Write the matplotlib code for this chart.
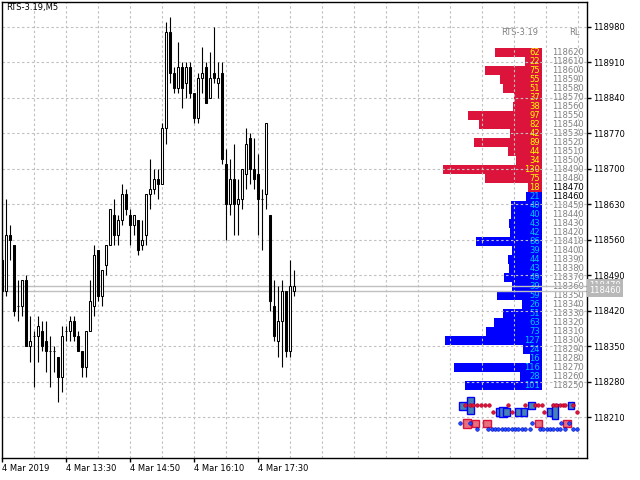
import matplotlib
matplotlib.use('Agg')
import matplotlib.pyplot as plt
import matplotlib.transforms as mtransforms
from matplotlib.patches import Rectangle

plt.rcParams['font.family'] = 'DejaVu Sans'
plt.rcParams['font.size'] = 5.6

# RTS-3.19 M5 bars
opens = [118520, 118460, 118570, 118550, 118430, 118430, 118480, 118350, 118370, 118370,
         118380, 118360, 118340, 118340, 118330, 118290, 118380, 118380, 118400, 118370,
         118340, 118310, 118380, 118430, 118540, 118450, 118510, 118550, 118610, 118570,
         118600, 118650, 118610, 118590, 118600, 118550, 118570, 118650, 118660, 118680,
         118670, 118780, 118970, 118890, 118860, 118900, 118870, 118900, 118850, 118800,
         118880, 118900, 118840, 118890, 118870, 118890, 118710, 118630, 118680, 118630,
         118640, 118690, 118760, 118700, 118690, 118640, 118650, 118610, 118430, 118360,
         118400, 118460, 118340, 118460]
highs = [118530, 118640, 118590, 118550, 118480, 118480, 118490, 118410, 118380, 118410,
         118400, 118400, 118370, 118350, 118330, 118390, 118390, 118410, 118410, 118380,
         118340, 118380, 118480, 118550, 118540, 118500, 118550, 118620, 118640, 118610,
         118670, 118660, 118620, 118610, 118600, 118600, 118650, 118720, 118700, 118700,
         118790, 118990, 119000, 118900, 118950, 118910, 118910, 118910, 118850, 118890,
         118940, 118910, 118930, 118980, 118910, 118910, 118740, 118720, 118750, 118680,
         118700, 118780, 118770, 118760, 118730, 118660, 118790, 118610, 118480, 118470,
         118480, 118460, 118520, 118500]
lows = [118450, 118450, 118520, 118410, 118400, 118410, 118350, 118320, 118270, 118320,
        118340, 118300, 118270, 118300, 118240, 118260, 118360, 118360, 118360, 118340,
        118290, 118290, 118380, 118410, 118440, 118430, 118490, 118550, 118550, 118550,
        118590, 118610, 118550, 118570, 118530, 118540, 118550, 118620, 118650, 118640,
        118670, 118750, 118870, 118850, 118850, 118820, 118840, 118840, 118790, 118790,
        118850, 118830, 118840, 118870, 118840, 118710, 118560, 118610, 118570, 118570,
        118620, 118660, 118670, 118660, 118570, 118540, 118620, 118420, 118360, 118330,
        118310, 118330, 118330, 118450]
closes = [118460, 118570, 118560, 118420, 118430, 118480, 118350, 118360, 118370, 118390,
          118350, 118340, 118340, 118340, 118290, 118370, 118380, 118400, 118370, 118340,
          118310, 118380, 118440, 118530, 118450, 118500, 118550, 118620, 118570, 118600,
          118650, 118620, 118590, 118610, 118540, 118560, 118650, 118660, 118680, 118670,
          118780, 118970, 118890, 118860, 118900, 118860, 118900, 118850, 118800, 118880,
          118890, 118830, 118880, 118880, 118880, 118720, 118630, 118680, 118630, 118640,
          118700, 118750, 118700, 118680, 118640, 118640, 118790, 118440, 118370, 118400,
          118460, 118340, 118470, 118470]

time_ticks = [0, 16, 32, 48, 64]
time_labels = ['4 Mar 2019', '4 Mar 13:30', '4 Mar 14:50', '4 Mar 16:10', '4 Mar 17:30']
price_ticks = [118210, 118280, 118350, 118420, 118490, 118560, 118630, 118700,
               118770, 118840, 118910, 118980]
bid = 118460
ask = 118470

# volume profile (right side)
profile_levels = [118620, 118610, 118600, 118590, 118580, 118570, 118560, 118550, 118540,
                  118530, 118520, 118510, 118500, 118490, 118480, 118470, 118460, 118450,
                  118440, 118430, 118420, 118410, 118400, 118390, 118380, 118370, 118360,
                  118350, 118340, 118330, 118320, 118310, 118300, 118290, 118280, 118270,
                  118260, 118250]
profile_counts = [62, 22, 75, 55, 51, 37, 38, 97, 82, 42, 89, 44, 34, 130, 75, 18,
                  21, 40, 40, 43, 42, 86, 39, 44, 43, 49, 39, 59, 26, 51, 63, 73, 127,
                  24, 16, 116, 28, 101]

# small order-flow glyphs under the profile
blue_boxes = [(8, 11, 8, 8), (15.5, 10.5, 7, 17), (43, 17, 4, 8), (48, 17, 8, 10),
              (51.5, 17, 7, 8), (62.8, 17, 6, 8), (68.5, 17, 6, 8), (76.5, 10.5, 7, 7),
              (94.5, 17, 5, 8), (100, 16.5, 6, 15), (116, 10.5, 6, 7)]
red_boxes = [(12, 28.5, 8, 9), (20.5, 28.5, 7, 7), (32, 28.5, 8, 7), (83.5, 28.5, 7, 7),
             (112, 28.5, 8, 7)]
red_dots_x = [10, 15, 18, 22, 26, 30, 34, 53, 70, 80, 83, 87, 98, 101, 105, 108, 110, 118,
              38, 57, 89, 122]
red_dots_y = [10, 10, 10, 10, 10, 10, 10, 10, 10, 10, 10, 10, 10, 10, 10, 10, 10, 10,
              17, 17, 17, 17]
blue_dots_x = [5, 15, 77, 106, 114, 22, 33, 37, 40, 43, 47, 50, 53, 57, 60, 63, 67, 70,
               75, 85, 88, 92, 95, 98, 102, 105, 110, 118, 122]
blue_dots_y = [28, 28, 28, 28, 28] + [34] * 24

fig = plt.figure(figsize=(6.4, 4.8), dpi=100, facecolor='white')

# profile axes sits underneath the chart so the grid runs over it
pax = fig.add_axes([430 / 640, 1 - 389.5 / 480, 111.7 / 640, 341.3 / 480], zorder=1)
pax.set_xlim(147, 0)
pax.set_ylim(118245, 118625)
pax.axis('off')
for lvl, cnt in zip(profile_levels, profile_counts):
    above = lvl > bid
    pax.barh(lvl, cnt, height=10, color='#DC143C' if above else '#0000FF', linewidth=0)
    pax.text(2.5, lvl, str(cnt), ha='right', va='center',
             color='#FFFF00' if above else '#00C8FF', fontsize=6)
    pax.text(-13.5, lvl, str(lvl), ha='left', va='center', clip_on=False,
             color='black' if lvl in (bid, ask) else '#808080', fontsize=6)
pax.text(5, 118642, 'RTS-3.19', ha='right', va='center', color='#808080', fontsize=6, clip_on=False)
pax.text(-50, 118642, 'RL', ha='right', va='center', color='#808080', fontsize=6, clip_on=False)

ax = fig.add_axes([2 / 640, 22 / 480, 585 / 640, 456 / 480], zorder=2)
ax.set_facecolor('none')
ax.set_xlim(-0.1, 146.2)
ax.set_ylim(118130, 119029)

idx = range(len(opens))
ax.vlines(idx, lows, highs, color='black', linewidth=0.8, zorder=3)
for i, o, c in zip(idx, opens, closes):
    bull = c >= o
    ax.bar(i, abs(c - o), bottom=min(o, c), width=0.55,
           facecolor='white' if bull else 'black', edgecolor='black',
           linewidth=0.75, zorder=4)

for x in range(8, 146, 8):
    ax.axvline(x, color='#C0C0C0', linestyle=(0, (2.2, 2.2)), linewidth=0.8, zorder=1)
for p in price_ticks:
    ax.axhline(p, color='#C0C0C0', linestyle=(0, (2.2, 2.2)), linewidth=0.8, zorder=1)

ax.axhline(ask, color='#C0C0C0', linewidth=1, zorder=2)
ax.axhline(bid, color='#C0C0C0', linewidth=1, zorder=2)

ax.yaxis.tick_right()
ax.set_yticks(price_ticks)
ax.set_yticklabels([str(p) for p in price_ticks])
ax.tick_params(axis='y', length=3, width=1, pad=1.5, labelsize=6, colors='black')
ax.set_xticks(time_ticks)
ax.set_xticklabels(time_labels, ha='left')
ax.tick_params(axis='x', length=3, width=1, pad=1.5, labelsize=6)
for s in ax.spines.values():
    s.set_color('black')
    s.set_linewidth(1)

# ask label is drawn first so the bid label covers most of it, as in the terminal
tr = mtransforms.blended_transform_factory(ax.transAxes, ax.transData)
ax.text(1.003, ask, str(ask), transform=tr, color='white', fontsize=6, va='center', ha='left',
        clip_on=False, bbox=dict(boxstyle='square,pad=0.25', fc='#B8B8B8', ec='none'))
ax.text(1.003, bid, str(bid), transform=tr, color='white', fontsize=6, va='center', ha='left',
        clip_on=False, bbox=dict(boxstyle='square,pad=0.25', fc='#B8B8B8', ec='none'))

fig.text(6 / 640, 1 - 3 / 480, 'RTS-3.19,M5', ha='left', va='top', fontsize=6)

# order-flow glyph strip
gax = fig.add_axes([455 / 640, 1 - 435 / 480, 130 / 640, 40 / 480], zorder=3)
gax.set_xlim(0, 130)
gax.set_ylim(40, 0)
gax.axis('off')
gax.plot(red_dots_x, red_dots_y, 'o', color='#DC143C', markersize=2.6,
         markeredgecolor='#B00020', markeredgewidth=0.4)
gax.plot(blue_dots_x, blue_dots_y, 'o', color='#1E50FF', markersize=2.6,
         markeredgecolor='#0000C0', markeredgewidth=0.4)
for cx, cy, w, h in blue_boxes:
    gax.add_patch(Rectangle((cx - w / 2, cy - h / 2), w, h, facecolor='#4682B4',
                            edgecolor='#0000FF', linewidth=1))
for cx, cy, w, h in red_boxes:
    gax.add_patch(Rectangle((cx - w / 2, cy - h / 2), w, h, facecolor='#E8707E',
                            edgecolor='#DC143C', linewidth=1))

plt.savefig('out.png', dpi=100)
